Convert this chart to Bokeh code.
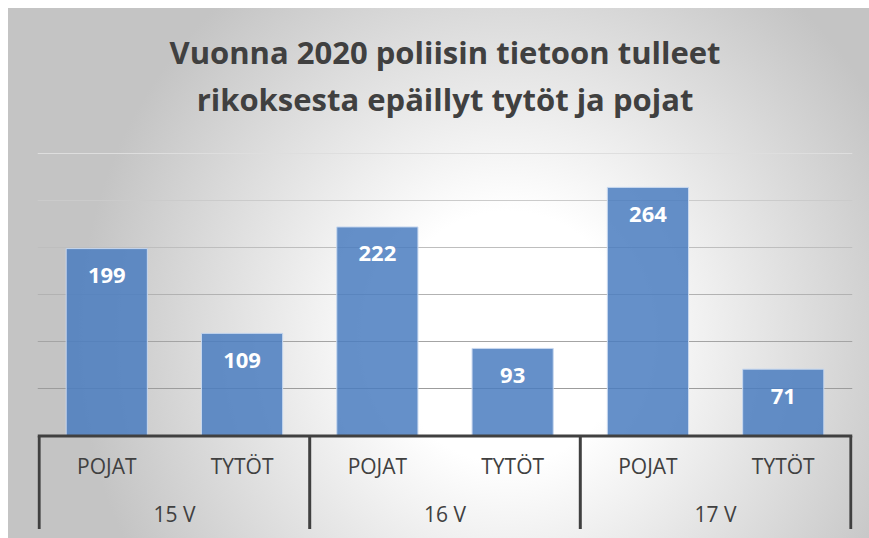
import math
from bokeh.plotting import figure
from bokeh.models import FactorRange, Range1d, Span, Grid, FixedTicker, Label
from bokeh.core.properties import value
from bokeh.embed import file_html
from bokeh.resources import INLINE

# ---- data ----
ages = ["15 V", "16 V", "17 V"]
genders = ["POJAT", "TYTÖT"]
counts = [199, 109, 222, 93, 264, 71]
grid_ticks = [50, 100, 150, 200, 250, 300]
title_lines = ["Vuonna 2020 poliisin tietoon tulleet",
               "rikoksesta epäillyt tytöt ja pojat"]

# ---- styles / layout ----
grid_colors = ["#9c9c9c", "#a4a4a4", "#b2b2b2", "#bebebe", "#cbcbcb", "#dedede"]
FONT = "Open Sans"
TEXT_COLOR = "#404040"
PX_PER_UNIT = 282.5 / 300.0          # vertical scale of the value axis
AXIS_PX = 435.5                      # screen row of value 0
title_rows_px = [51.5, 98.8]         # screen rows of the title lines

factors = [(a, g) for a in ages for g in genders]
sub_labels = [g for a in ages for g in genders]

x_range = FactorRange(*factors, factor_padding=0, group_padding=0,
                      range_padding=0.012, range_padding_units="absolute")
y_top = AXIS_PX / PX_PER_UNIT
y_bottom = -(538 - AXIS_PX) / PX_PER_UNIT

p = figure(width=869, height=538, x_range=x_range, y_range=Range1d(y_bottom, y_top),
           x_axis_location=None, y_axis_location=None,
           output_backend="svg", toolbar_location=None,
           min_border_left=37, min_border_right=17, min_border_top=0,
           min_border_bottom=0)
p.grid.visible = False
p.background_fill_alpha = 0
p.border_fill_alpha = 0
p.outline_line_color = None
p.styles = {
    "background-color": "#ffffff",
    "background-image": "radial-gradient(ellipse 430px 450px at 500px 329px, #ffffff 0%, #ffffff 28%, #c4c4c4 100%)",
    "background-size": "861px 530px",
    "background-position": "8px 8px",
    "background-repeat": "no-repeat",
}

for t, c in zip(grid_ticks, grid_colors):
    p.add_layout(Grid(dimension=1, ticker=FixedTicker(ticks=[t]),
                      grid_line_color=c, grid_line_width=1))

x_center = len(factors) / 2.0
for line, rpx in zip(title_lines, title_rows_px):
    p.add_layout(Label(x=x_center, y=(AXIS_PX - rpx) / PX_PER_UNIT, text=line,
                       text_align="center", text_baseline="middle",
                       text_font=FONT, text_font_size="31px", text_font_style="bold",
                       text_color=TEXT_COLOR))

p.vbar(x=factors, top=counts, width=0.6, fill_color="#4a7cbf", fill_alpha=0.85,
       line_color="#c8d8ef", line_width=1)

p.text(x=factors, y=counts, text=[str(c) for c in counts],
       text_font=value(FONT), text_font_style="bold", text_font_size="22px",
       text_color="white", text_align="center", text_baseline="middle",
       y_offset=27)

p.text(x=factors, y=[0] * len(factors), text=sub_labels,
       text_font=value(FONT), text_font_size="21px", text_color=TEXT_COLOR,
       text_align="center", text_baseline="middle", y_offset=30)

p.text(x=ages, y=[0] * len(ages), text=ages,
       text_font=value(FONT), text_font_size="21px", text_color=TEXT_COLOR,
       text_align="center", text_baseline="middle", y_offset=78)

sep_x = [(a, -1) for a in ages] + [(ages[-1], 1)]
p.ray(x=sep_x, y=[0] * len(sep_x), length=93, angle=-math.pi / 2,
      length_units="screen", line_color="#404040", line_width=3)

p.add_layout(Span(location=0, dimension="width", line_color="#404040", line_width=3))

open("out.html", "w").write(file_html(p, INLINE))
